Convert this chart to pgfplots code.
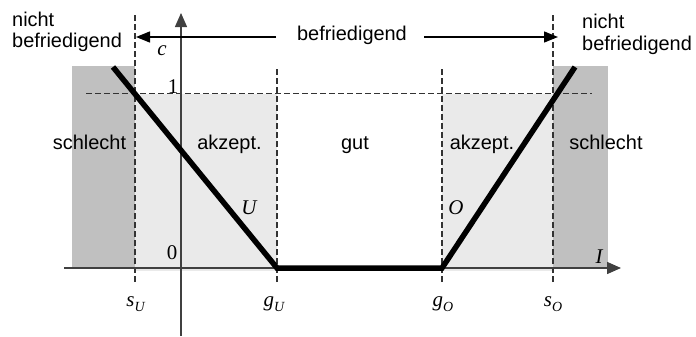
\documentclass[border=0pt]{standalone}
\usepackage{pgfplots}
\pgfplotsset{compat=1.18}
\usepackage{fontspec}
\setmainfont{Liberation Sans}
\newfontfamily\tm{Liberation Serif}
\usetikzlibrary{arrows.meta}
\definecolor{dg}{HTML}{C0C0C0}
\definecolor{lg}{HTML}{EAEAEA}
\definecolor{axc}{HTML}{404040}
\definecolor{dsh}{HTML}{333333}
\tikzset{
  sans/.style={font=\fontsize{20}{24}\selectfont, inner sep=0pt, anchor=base},
  mth/.style={font=\fontsize{21}{24}\selectfont\tm\itshape, inner sep=0pt, anchor=base},
  guide/.style={dsh, line width=1.3bp, dash pattern=on 6bp off 3bp},
}
\newcommand{\sub}[1]{\raisebox{-5bp}{\fontsize{14}{14}\selectfont #1}}
\begin{document}
\begin{tikzpicture}
\begin{axis}[x=1bp, y=1bp, xmin=-181, xmax=515, ymin=-68, ymax=268,
  hide axis, clip=false]
\path (axis cs:-181,-68) rectangle (axis cs:515,268);
% regions
\addplot[fill=dg, draw=none] coordinates {(-109,0) (-46,0) (-46,202) (-109,202)} -- cycle;
\addplot[fill=lg, draw=none] coordinates {(-46,-3) (96,-3) (96,174.5) (-46,174.5)} -- cycle;
\addplot[fill=lg, draw=none] coordinates {(261,-3) (372,-3) (372,174.5) (261,174.5)} -- cycle;
\addplot[fill=dg, draw=none] coordinates {(372,0) (427,0) (427,202) (372,202)} -- cycle;
% guides
\addplot[guide] coordinates {(-95,174.5) (411,174.5)};
\addplot[guide] coordinates {(-46,-14) (-46,253)};
\addplot[guide] coordinates {(372,-14) (372,253)};
\addplot[guide] coordinates {(96,-14) (96,200)};
\addplot[guide] coordinates {(261,-14) (261,200)};
% axes
\addplot[axc, line width=1.5bp, -{Triangle[length=14bp,width=12bp]}] coordinates {(-117,0) (440,0)};
\addplot[axc, line width=1.3bp, -{Triangle[length=14bp,width=12bp]}] coordinates {(0,-68) (0,255)};
% befriedigend arrows
\addplot[black, line width=1.3bp, -{Triangle[length=14bp,width=11bp]}] coordinates {(95,231) (-45,231)};
\addplot[black, line width=1.3bp, -{Triangle[length=14bp,width=11bp]}] coordinates {(243,231) (377,231)};
% membership function
\addplot[black, line width=5.5bp, line join=miter] coordinates {(-68,201) (96,0) (261,0) (394,201)};
% texts
\node[sans, anchor=base west] at (axis cs:-169,242) {nicht};
\node[sans, anchor=base west] at (axis cs:-169,221) {befriedigend};
\node[sans, anchor=base west] at (axis cs:401,240) {nicht};
\node[sans, anchor=base west] at (axis cs:401,218) {befriedigend};
\node[sans] at (axis cs:171,228) {befriedigend};
\node[sans] at (axis cs:-91.5,119) {schlecht};
\node[sans] at (axis cs:48.5,119) {akzept.};
\node[sans] at (axis cs:174,119) {gut};
\node[sans] at (axis cs:301,119) {akzept.};
\node[sans] at (axis cs:425,119) {schlecht};
\node[mth] at (axis cs:-19,213) {c};
\node[mth, font=\fontsize{21}{24}\selectfont\tm] at (axis cs:-8,175) {1};
\node[mth, font=\fontsize{21}{24}\selectfont\tm] at (axis cs:-9,9) {0};
\node[mth] at (axis cs:68,54) {U};
\node[mth] at (axis cs:275,54) {O};
\node[mth] at (axis cs:418,5) {I};
\node[mth] at (axis cs:-45.5,-38) {s\sub{U}};
\node[mth] at (axis cs:93,-38) {g\sub{U}};
\node[mth] at (axis cs:262,-38) {g\sub{O}};
\node[mth] at (axis cs:372,-38) {s\sub{O}};
\end{axis}
\end{tikzpicture}
\end{document}
